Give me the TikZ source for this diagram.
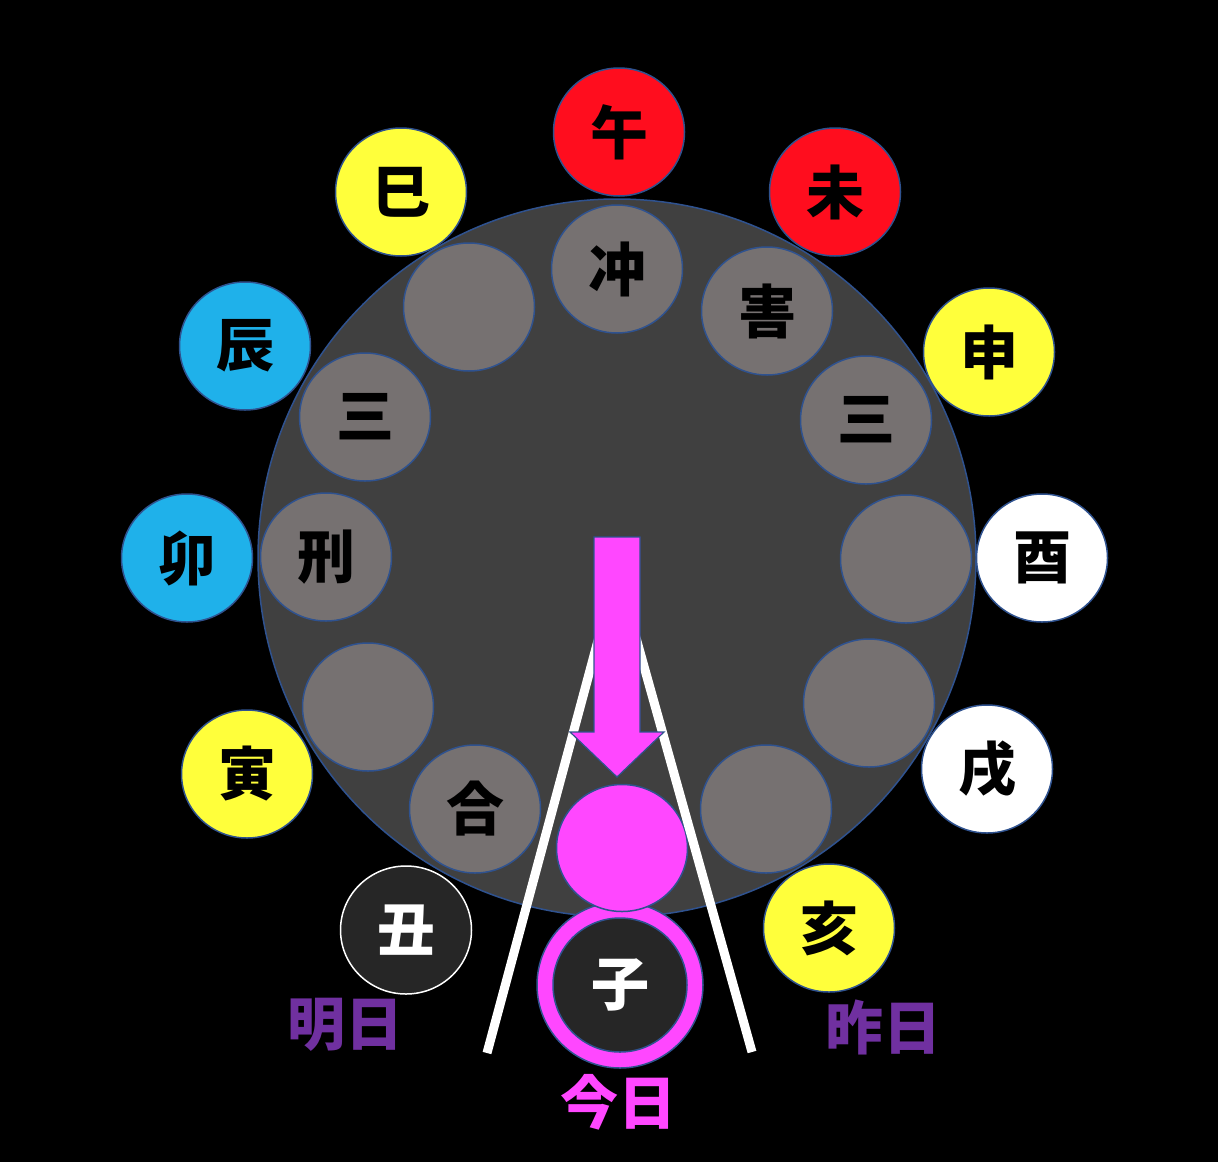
\documentclass[tikz,border=0pt]{standalone}
\usepackage{fontspec}
\newfontfamily\cjk{Noto Sans CJK JP}
\usetikzlibrary{shapes.geometric}
\definecolor{bigc}{HTML}{404040}
\definecolor{innerc}{HTML}{767171}
\definecolor{edgec}{HTML}{2F528F}
\definecolor{redc}{HTML}{FF0D1E}
\definecolor{yelc}{HTML}{FFFF3B}
\definecolor{bluec}{HTML}{1FB1EA}
\definecolor{magc}{HTML}{FF47FF}
\definecolor{purc}{HTML}{7030A0}
\definecolor{darkc}{HTML}{262626}
\tikzset{
  ball/.style={ellipse, minimum width=131pt, minimum height=128pt, inner sep=0pt,
    draw=edgec, line width=1.5pt, font=\cjk\bfseries\fontsize{58}{58}\selectfont},
  inball/.style={ball, fill=innerc, text=black},
  outball/.style={ball, text=black},
  daylabel/.style={font=\cjk\bfseries\fontsize{58}{58}\selectfont, inner sep=0pt},
  whiteline/.style={draw=white, line width=9pt},
}
\begin{document}
\begin{tikzpicture}[x=1pt,y=-1pt]
\fill[black] (0,0) rectangle (1218,1162);
\useasboundingbox (0,0) rectangle (1218,1162);
% big disc
\node[circle, minimum size=718pt, inner sep=0pt, fill=bigc, draw=edgec, line width=1.5pt] (disc) at (617,558) {};
% inner circles
\node[inball] (i1) at (617,269) {冲};
\node[inball] (i2) at (767,311) {害};
\node[inball] (i3) at (866,420) {三};
\node[inball] (i4) at (906,559) {};
\node[inball] (i5) at (869,703) {};
\node[inball] (i6) at (766,809) {};
\node[inball] (i8) at (475,809) {合};
\node[inball] (i9) at (368,707) {};
\node[inball] (i10) at (326,557) {刑};
\node[inball] (i11) at (365,417) {三};
\node[inball] (i12) at (469,307) {};
% outer circles
\node[outball, fill=redc] (wu) at (619,132) {午};
\node[outball, fill=redc] (wei) at (835,192) {未};
\node[outball, fill=yelc] (shen) at (989,352) {申};
\node[outball, fill=white] (you) at (1042,558) {酉};
\node[outball, fill=white] (xu) at (987,769) {戌};
\node[outball, fill=yelc] (hai) at (829,928) {亥};
\node[outball, fill=darkc, draw=white, text=white] (chou) at (406,930) {丑};
\node[outball, fill=yelc] (yin) at (247,774) {寅};
\node[outball, fill=bluec] (mao) at (187,558) {卯};
\node[outball, fill=bluec] (chen) at (245,346) {辰};
\node[outball, fill=yelc] (si) at (401,192) {巳};
% zi ring
\node[circle, minimum size=166pt, inner sep=0pt, fill=magc, draw=edgec, line width=1.5pt] (zir) at (620,985) {};
\node[circle, minimum size=134pt, inner sep=0pt, fill=darkc, draw=edgec, line width=1.5pt,
  text=white, font=\cjk\bfseries\fontsize{58}{58}\selectfont] (zi) at (620,985) {子};
% magenta circle
\node[ellipse, minimum width=131pt, minimum height=127pt, inner sep=0pt, fill=magc, draw=edgec, line width=1.5pt] (i7) at (622,848) {};
% white lines
\coordinate (apex) at (617,570);
\coordinate (lend) at (487,1053);
\coordinate (rend) at (752,1052);
\draw[whiteline] (apex) -- (lend);
\draw[whiteline] (apex) -- (rend);
% arrow
\draw[fill=magc, draw=edgec, line width=1.2pt]
  (594,537) -- (640,537) -- (640,732) -- (664,732) -- (617,777) -- (570,732) -- (594,732) -- cycle;
% labels
\node[daylabel, text=purc] (ming) at (345,1025) {明日};
\node[daylabel, text=purc] (zuo) at (883,1027) {昨日};
\node[daylabel, text=magc] (jin) at (618,1102) {今日};
\end{tikzpicture}
\end{document}
